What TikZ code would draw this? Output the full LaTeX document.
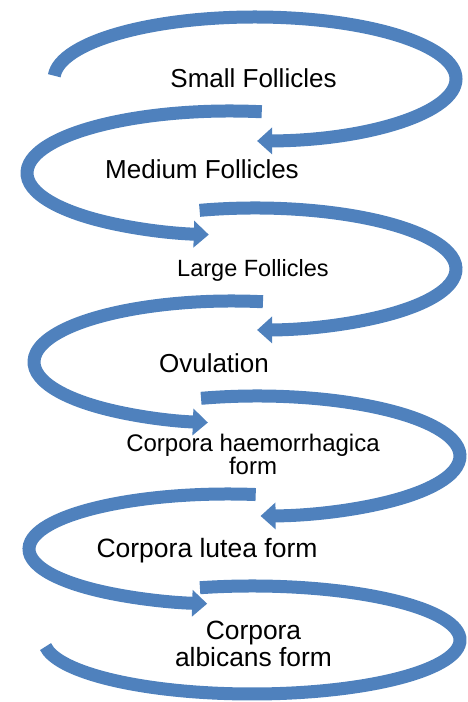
\documentclass[tikz,border=0pt]{standalone}
\usepackage{fontspec}
\setmainfont{Liberation Sans}
\usetikzlibrary{arrows.meta}
\definecolor{cyc}{HTML}{4F81BD}
\tikzset{
  cycarrow/.style={draw=cyc, line width=13pt, line cap=butt, -{Triangle[length=15pt,width=26pt]}},
  cycband/.style={draw=cyc, line width=13pt, line cap=butt},
  lbl/.style={inner sep=0pt, anchor=base, align=center, text=black},
}
\begin{document}
\begin{tikzpicture}[x=1pt,y=1pt]
\useasboundingbox (0,0) rectangle (468,702);
% arrow 1
\draw[cycarrow] (255,623) ++(177:201 and 62) arc[start angle=177, end angle=-89.4, x radius=201, y radius=62];
% arrow 2
\draw[cycarrow] (230,529) ++(81:203 and 62) arc[start angle=81, end angle=264, x radius=203, y radius=62];
% arrow 3
\draw[cycarrow] (255,433) ++(106:201 and 61) arc[start angle=106, end angle=-89.4, x radius=201, y radius=61];
% arrow 4
\draw[cycarrow] (232,340) ++(81:198 and 61) arc[start angle=81, end angle=263, x radius=198, y radius=61];
% arrow 5
\draw[cycarrow] (257,246) ++(106:203 and 60) arc[start angle=106, end angle=-89, x radius=203, y radius=60];
% arrow 6
\draw[cycarrow] (228,153) ++(82:199 and 55) arc[start angle=82, end angle=264, x radius=199, y radius=55];
% arrow 7
\draw[cycband] (252,62) ++(104.5:208 and 54) arc[start angle=104.5, end angle=-173, x radius=208, y radius=54];
% labels
\node[lbl, font=\fontsize{26}{27}\selectfont] (t1) at (253.5,614) {Small Follicles};
\node[lbl, font=\fontsize{26}{27}\selectfont] (t2) at (202,523) {Medium Follicles};
\node[lbl, font=\fontsize{23.5}{25}\selectfont] (t3) at (253,425) {Large Follicles};
\node[lbl, font=\fontsize{26}{27}\selectfont] (t4) at (214,329) {Ovulation};
\node[lbl, font=\fontsize{24}{23.5}\selectfont] (t5) at (253,227) {Corpora haemorrhagica\\form};
\node[lbl, font=\fontsize{26.5}{27}\selectfont] (t6) at (207,144) {Corpora lutea form};
\node[lbl, font=\fontsize{26.4}{27}\selectfont] (t7) at (253.5,35) {Corpora\\albicans form};
\end{tikzpicture}
\end{document}
